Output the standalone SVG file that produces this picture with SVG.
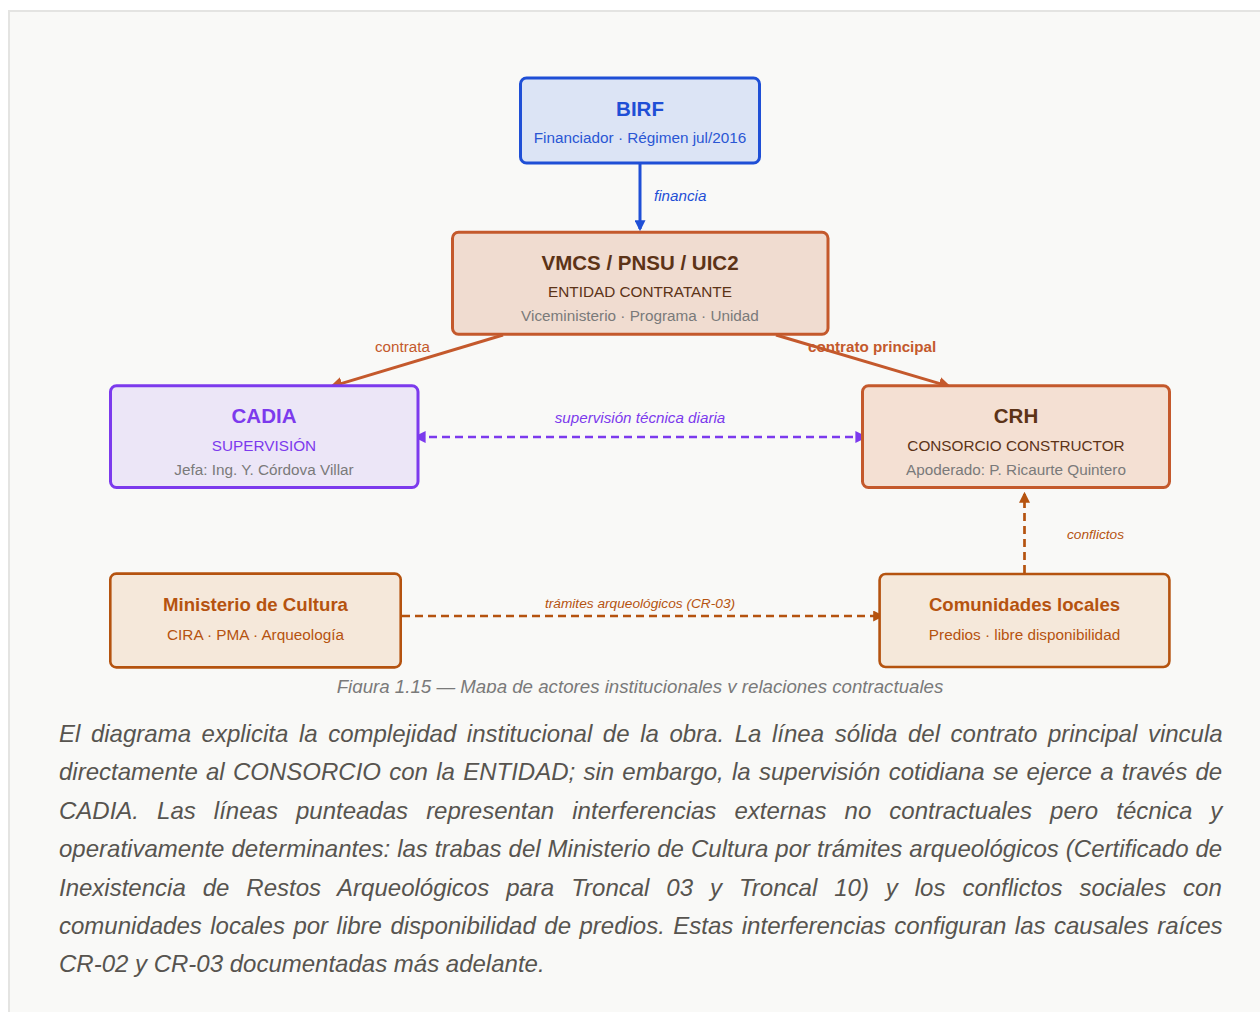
<svg xmlns="http://www.w3.org/2000/svg" width="1260" height="1012" viewBox="0 0 1260 1012">
  <style>
    text { font-family: "Liberation Sans", Arial, sans-serif; }
    .title { font-weight: bold; font-size: 20.5px; text-anchor: middle; }
    .sub { font-size: 15.3px; text-anchor: middle; }
    .gray { fill: #7a7a7a; }
    .lbl { font-size: 15.2px; }
    .lbls { font-size: 13.7px; font-style: italic; }
    .para { font-size: 24px; font-style: italic; fill: #57544f; }
    .solid { fill: none; stroke-width: 3; }
    .dash { fill: none; stroke-width: 2.7; stroke-dasharray: 8 5; }
  </style>
  <defs>
    <marker id="mBlue" viewBox="0 0 10 10" markerUnits="userSpaceOnUse" markerWidth="11" markerHeight="11" refX="8" refY="5" orient="auto"><path d="M0,0 L10,5 L0,10 z" fill="#1f4fd6"/></marker>
    <marker id="mOrange" viewBox="0 0 10 10" markerUnits="userSpaceOnUse" markerWidth="13" markerHeight="13" refX="8" refY="5" orient="auto"><path d="M0,0 L10,5 L0,10 z" fill="#c4592c"/></marker>
    <marker id="mPurple" viewBox="0 0 10 10" markerUnits="userSpaceOnUse" markerWidth="12" markerHeight="12" refX="8" refY="5" orient="auto-start-reverse"><path d="M0,0 L10,5 L0,10 z" fill="#7c3aed"/></marker>
    <marker id="mAmber" viewBox="0 0 10 10" markerUnits="userSpaceOnUse" markerWidth="11" markerHeight="11" refX="8" refY="5" orient="auto"><path d="M0,0 L10,5 L0,10 z" fill="#b5530f"/></marker>
    <clipPath id="figClip"><rect x="0" y="0" width="1260" height="693"/></clipPath>
  </defs>

  <rect x="0" y="0" width="1260" height="1012" fill="#ffffff"/>
  <rect x="9" y="11" width="1300" height="1100" fill="#f9f9f7" stroke="#e4e4e2" stroke-width="2"/>

  <g id="figure" clip-path="url(#figClip)">
    <g id="connectors">
      <line x1="640" y1="164" x2="640" y2="229" stroke="#1f4fd6" class="solid" marker-end="url(#mBlue)"/>
      <text x="654" y="201" class="lbl" font-style="italic" fill="#1f4fd6">financia</text>

      <line x1="503" y1="335" x2="331.9" y2="386.4" stroke="#c4592c" class="solid" marker-end="url(#mOrange)"/>
      <text x="375" y="352" class="lbl" fill="#c4592c">contrata</text>

      <line x1="776" y1="335" x2="949.1" y2="386.4" stroke="#c4592c" class="solid" marker-end="url(#mOrange)"/>
      <text x="808" y="352" class="lbl" font-weight="bold" fill="#c4592c">contrato principal</text>

      <line x1="416" y1="437" x2="865" y2="437" stroke="#7c3aed" class="dash" marker-start="url(#mPurple)" marker-end="url(#mPurple)"/>
      <text x="640" y="423" class="lbl" font-style="italic" text-anchor="middle" fill="#7c3aed">supervisión técnica diaria</text>

      <line x1="402" y1="616" x2="882" y2="616" stroke="#b5530f" class="dash" marker-end="url(#mAmber)"/>
      <text x="640" y="608" class="lbls" text-anchor="middle" fill="#b5530f">trámites arqueológicos (CR-03)</text>

      <line x1="1024.5" y1="573" x2="1024.5" y2="494" stroke="#b5530f" class="dash" marker-end="url(#mAmber)"/>
      <text x="1067" y="539" class="lbls" fill="#b5530f">conflictos</text>
    </g>

    <g id="birf">
      <rect x="520.5" y="78" width="239" height="85" rx="6" fill="#dce4f5" stroke="#1f4fd6" stroke-width="3"/>
      <text x="640" y="116" class="title" fill="#1f4fd6">BIRF</text>
      <text x="640" y="143" class="sub" fill="#2a56d4">Financiador · Régimen jul/2016</text>
    </g>

    <g id="vmcs">
      <rect x="452.5" y="232.2" width="375.5" height="102" rx="6" fill="#f0dcd0" stroke="#c4592c" stroke-width="3"/>
      <text x="640" y="270" class="title" fill="#5c3317">VMCS / PNSU / UIC2</text>
      <text x="640" y="297" class="sub" fill="#5c3317">ENTIDAD CONTRATANTE</text>
      <text x="640" y="321" class="sub gray">Viceministerio · Programa · Unidad</text>
    </g>

    <g id="cadia">
      <rect x="110.5" y="385.8" width="307.5" height="101.7" rx="6" fill="#ece6f7" stroke="#7c3aed" stroke-width="3"/>
      <text x="264" y="423" class="title" fill="#7c3aed">CADIA</text>
      <text x="264" y="451" class="sub" fill="#7c3aed">SUPERVISIÓN</text>
      <text x="264" y="475" class="sub gray">Jefa: Ing. Y. Córdova Villar</text>
    </g>

    <g id="crh">
      <rect x="862.5" y="385.8" width="307" height="101.7" rx="6" fill="#f4e0d3" stroke="#c4592c" stroke-width="3"/>
      <text x="1016" y="423" class="title" fill="#5c3317">CRH</text>
      <text x="1016" y="451" class="sub" fill="#5c3317">CONSORCIO CONSTRUCTOR</text>
      <text x="1016" y="475" class="sub gray">Apoderado: P. Ricaurte Quintero</text>
    </g>

    <g id="mincultura">
      <rect x="110.3" y="573.6" width="290.4" height="93.8" rx="6" fill="#f5e8da" stroke="#b5530f" stroke-width="2.6"/>
      <text x="255.5" y="611" class="title" style="font-size:18.6px" fill="#b5530f">Ministerio de Cultura</text>
      <text x="255.5" y="639.5" class="sub" fill="#b5530f">CIRA · PMA · Arqueología</text>
    </g>

    <g id="comunidades">
      <rect x="879.6" y="574" width="289.8" height="93" rx="6" fill="#f5e8da" stroke="#b5530f" stroke-width="2.6"/>
      <text x="1024.5" y="611" class="title" style="font-size:18.6px" fill="#b5530f">Comunidades locales</text>
      <text x="1024.5" y="639.5" class="sub" fill="#b5530f">Predios · libre disponibilidad</text>
    </g>

    <text x="640" y="692.7" font-size="18.7" font-style="italic" text-anchor="middle" fill="#7a7a7a">Figura 1.15 — Mapa de actores institucionales y relaciones contractuales</text>
  </g>

  <g id="paragraph" class="para">
    <text x="59" y="742" word-spacing="3.93">El diagrama explicita la complejidad institucional de la obra. La línea sólida del contrato principal vincula</text>
    <text x="59" y="780.4" word-spacing="1.6">directamente al CONSORCIO con la ENTIDAD; sin embargo, la supervisión cotidiana se ejerce a través de</text>
    <text x="59" y="818.8" word-spacing="11.4">CADIA. Las líneas punteadas representan interferencias externas no contractuales pero técnica y</text>
    <text x="59" y="857.2" word-spacing="0.33">operativamente determinantes: las trabas del Ministerio de Cultura por trámites arqueológicos (Certificado de</text>
    <text x="59" y="895.6" word-spacing="10.29">Inexistencia de Restos Arqueológicos para Troncal 03 y Troncal 10) y los conflictos sociales con</text>
    <text x="59" y="934" word-spacing="1.8">comunidades locales por libre disponibilidad de predios. Estas interferencias configuran las causales raíces</text>
    <text x="59" y="972.4">CR-02 y CR-03 documentadas más adelante.</text>
  </g>
</svg>
